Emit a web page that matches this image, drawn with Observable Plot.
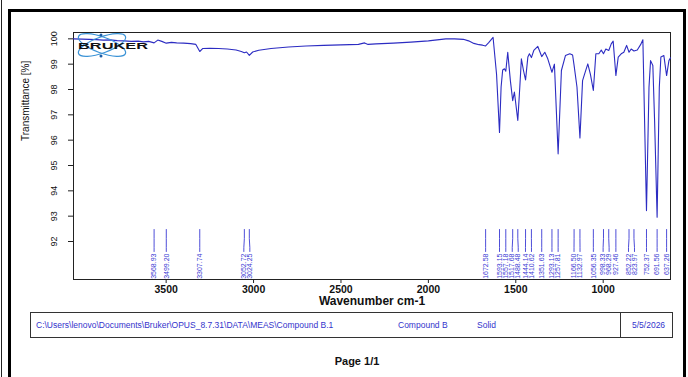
<!DOCTYPE html>
<html>
<head>
<meta charset="utf-8">
<script src="https://cdn.jsdelivr.net/npm/d3@7"></script>
<script src="https://cdn.jsdelivr.net/npm/@observablehq/plot@0.6"></script>
<style>
  html, body { margin: 0; padding: 0; background: #fff; }
  #wrap { position: relative; width: 688px; height: 377px; overflow: hidden; background: #fff;
          font-family: "Liberation Sans", Arial, sans-serif; }
  #chart { position: absolute; left: 0; top: 0; }
  .frameTop { position: absolute; left: 8px; top: 9px; width: 678px; height: 3px; background: #000; }
  .frameLeft { position: absolute; left: 8px; top: 9px; width: 3px; height: 380px; background: #000; }
  .frameRight { position: absolute; left: 683px; top: 9px; width: 3px; height: 380px; background: #000; }
  .edgeLine { position: absolute; left: 1px; top: 0; width: 1px; height: 377px; background: #222; }
  #infobox { position: absolute; left: 30px; top: 312px; width: 641px; height: 24px; border: 1px solid #333;
             font-size: 8.5px; color: #3333cc; }
  #infobox .divider { position: absolute; left: 589px; top: 0; width: 1px; height: 24px; background: #333; }
  #infobox span { position: absolute; top: 7px; white-space: nowrap; }
  #page { position: absolute; left: 0; width: 714px; top: 355px; text-align: center; font-size: 11px; font-weight: bold; color: #111; }
  #logo { position: absolute; left: 74px; top: 32px; }
</style>
</head>
<body>
<div id="wrap">
  <div id="chart"></div>
  <svg id="logo" width="80" height="30" viewBox="0 0 80 30">
    <g transform="translate(28,13)" fill="none" stroke="#3b93d6" stroke-width="1.2">
      <ellipse rx="25" ry="8" transform="rotate(20)"></ellipse>
      <ellipse rx="25" ry="8" transform="rotate(-20)"></ellipse>
    </g>
    <circle cx="27" cy="3" r="1.5" fill="#1f5fa8"></circle>
    <circle cx="27" cy="24" r="1.5" fill="#1f5fa8"></circle>
    <text x="4" y="16.5" font-size="8.5" font-weight="900" fill="#111" textLength="70" lengthAdjust="spacingAndGlyphs"
          font-family="Liberation Sans, Arial, sans-serif">BRUKER</text>
  </svg>
  <div class="edgeLine"></div>
  <div class="frameTop"></div>
  <div class="frameLeft"></div>
  <div class="frameRight"></div>
  <div id="infobox">
    <span style="left:5px">C:\Users\lenovo\Documents\Bruker\OPUS_8.7.31\DATA\MEAS\Compound B.1</span>
    <span style="left:367px">Compound B</span>
    <span style="left:446px">Solid</span>
    <div class="divider"></div>
    <span style="left:601px">5/5/2026</span>
  </div>
  <div id="page">Page 1/1</div>
</div>
<script>
// ---- data ----
const wavenumbers = [
  4030, 3980, 3940, 3900, 3860, 3820, 3780, 3740, 3700, 3660, 3630, 3600,
  3568.93, 3548, 3525, 3499.2, 3470, 3440, 3400, 3360, 3330, 3307.74, 3290,
  3250, 3200, 3150, 3100, 3070, 3052.72, 3040, 3024.25, 3005, 2970, 2900,
  2800, 2700, 2600, 2500, 2400, 2365, 2345, 2300, 2200, 2100, 2000, 1950,
  1900, 1850, 1800, 1770, 1740, 1710, 1690, 1672.58, 1655, 1630, 1610,
  1593.15, 1584, 1575, 1565, 1557.18, 1546, 1531, 1517.68, 1508, 1488.48,
  1477, 1468, 1456, 1444.14, 1431, 1422, 1410.62, 1397, 1374, 1351.63, 1334,
  1317, 1293.13, 1279, 1257.81, 1239, 1216, 1191, 1175, 1166.5, 1150,
  1132.97, 1118, 1107, 1088, 1073, 1056.35, 1042, 1025, 1011, 998.33, 985,
  968.29, 954, 943, 927.46, 914, 897, 882, 866, 852.22, 840, 823.97, 805,
  786, 773, 752.37, 738, 729, 716, 706, 691.56, 679, 670, 653, 637.26, 624, 615
];
const transmittance = [
  100.0, 99.99, 99.98, 99.97, 99.95, 99.96, 99.93, 99.92, 99.9, 99.91, 99.88, 99.9,
  99.84, 99.95, 99.9, 99.83, 99.86, 99.84, 99.83, 99.81, 99.78, 99.5, 99.62,
  99.63, 99.62, 99.6, 99.56, 99.5, 99.45, 99.48, 99.35, 99.48, 99.55, 99.62,
  99.68, 99.72, 99.74, 99.76, 99.78, 99.84, 99.78, 99.8, 99.83, 99.87, 99.92, 99.96,
  100.0, 100.0, 99.98, 99.92, 99.82, 99.77, 99.75, 99.72, 99.85, 100.06, 98.6,
  96.3, 98.1, 98.77, 98.82, 98.72, 99.47, 98.35, 97.56, 97.9, 96.78,
  98.1, 99.21, 98.75, 98.38, 99.28, 99.41, 99.26, 99.54, 99.7, 99.3, 99.47,
  99.21, 98.68, 99.0, 95.46, 98.75, 99.34, 99.41, 99.36, 98.95, 98.1,
  96.09, 98.35, 98.6, 99.01, 98.6, 97.96, 99.41, 99.41, 99.56, 99.41, 99.6,
  99.54, 99.8, 99.91, 98.55, 99.28, 99.41, 99.47, 99.74, 99.47, 99.6, 99.52, 99.56,
  99.77, 99.96, 93.22, 98.09, 99.14, 98.95, 96.78, 92.96, 98.09, 99.28, 99.34, 98.55, 99.14, 99.25
];
const peakWavenumbers = [
  3568.93, 3499.20, 3307.74, 3052.72, 3024.25,
  1672.58, 1593.15, 1557.18, 1517.68, 1488.48, 1444.14, 1410.62, 1351.63,
  1293.13, 1257.81, 1166.50, 1132.97, 1056.35, 998.33, 968.29, 927.46,
  852.22, 823.97, 752.37, 691.56, 637.26
];
const peakLabels = [
  "3568.93", "3499.20", "3307.74", "3052.72", "3024.25",
  "1672.58", "1593.15", "1557.18", "1517.68", "1488.48", "1444.14", "1410.62", "1351.63",
  "1293.13", "1257.81", "1166.50", "1132.97", "1056.35", "998.33", "968.29", "927.46",
  "852.22", "823.97", "752.37", "691.56", "637.26"
];
const xTicks = [3500, 3000, 2500, 2000, 1500, 1000];
const yTicks = [92, 93, 94, 95, 96, 97, 98, 99, 100];

// ---- layout ----
const W = 688, H = 377;
const M = {left: 73, right: 18, top: 32, bottom: 98};
const xDomain = [4030, 615];
const yDomain = [90.5, 100.25];
const lineColor = "#2c2cc2";
const labelColor = "#3a3ad4";

const xs = Plot.scale({x: {domain: xDomain, range: [M.left, W - M.right]}});
const ys = Plot.scale({y: {domain: yDomain, range: [H - M.bottom, M.top]}});

const spectrum = wavenumbers.map((w, i) => ({w, t: transmittance[i]}));

// spread labels apart (centered clusters) in pixel space
function dodge(px, s) {
  let cl = px.map((p, i) => ({i0: i, n: 1, sum: p}));
  let merged = true;
  while (merged) {
    merged = false;
    for (let k = 0; k < cl.length - 1; k++) {
      const a = cl[k], b = cl[k + 1];
      const aRight = a.sum / a.n + (a.n - 1) * s / 2;
      const bLeft = b.sum / b.n - (b.n - 1) * s / 2;
      if (bLeft - aRight < s) {
        cl.splice(k, 2, {i0: a.i0, n: a.n + b.n, sum: a.sum + b.sum});
        merged = true;
        break;
      }
    }
  }
  const out = [];
  cl.forEach(c => {
    const c0 = c.sum / c.n - (c.n - 1) * s / 2;
    for (let j = 0; j < c.n; j++) out.push(c0 + j * s);
  });
  return out;
}
const peakPx = peakWavenumbers.map(w => xs.apply(w));
const labelPx = dodge(peakPx, 6.0);
const labelW = labelPx.map(p => xs.invert(p));

const yTop = ys.invert(229), yBend1 = ys.invert(238), yBend2 = ys.invert(247), yFoot = ys.invert(251), yText = ys.invert(253);
const connectors = [];
peakWavenumbers.forEach((w, i) => {
  connectors.push({i, w, t: yTop});
  connectors.push({i, w, t: yBend1});
  connectors.push({i, w: labelW[i], t: yBend2});
  connectors.push({i, w: labelW[i], t: yFoot});
});
const peaks = peakLabels.map((s, i) => ({s, w: labelW[i]}));

const chart = Plot.plot({
  width: W, height: H,
  marginLeft: M.left, marginRight: M.right, marginTop: M.top, marginBottom: M.bottom,
  x: {domain: xDomain},
  y: {domain: yDomain},
  style: {fontFamily: "Liberation Sans, Arial, sans-serif", background: "transparent", color: "#111"},
  marks: [
    Plot.frame({stroke: "#222", strokeWidth: 1}),
    Plot.axisX({ticks: xTicks, tickSize: 4, tickPadding: 2, tickFormat: d => String(d), fontSize: 10.5, fontWeight: "bold", label: null, stroke: "#222"}),
    Plot.axisY({ticks: yTicks, tickSize: 5, tickPadding: 12, tickRotate: -90, tickFormat: d => String(d), fontSize: 9, label: null, stroke: "#222"}),
    Plot.text(["Wavenumber cm-1"], {frameAnchor: "bottom", dy: 25, fontSize: 12, fontWeight: "bold", fill: "#111"}),
    Plot.text(["Transmittance [%]"], {frameAnchor: "left", dx: -48, dy: -15, rotate: -90, fontSize: 10, fill: "#111"}),
    Plot.line(connectors, {x: "w", y: "t", z: "i", stroke: labelColor, strokeWidth: 0.9}),
    Plot.text(peaks, {x: "w", y: () => yText, text: "s", rotate: -90, textAnchor: "end", fontSize: 7, fill: labelColor}),
    Plot.line(spectrum, {x: "w", y: "t", stroke: lineColor, strokeWidth: 1.1})
  ]
});
document.getElementById("chart").appendChild(chart);
</script>
</body>
</html>
